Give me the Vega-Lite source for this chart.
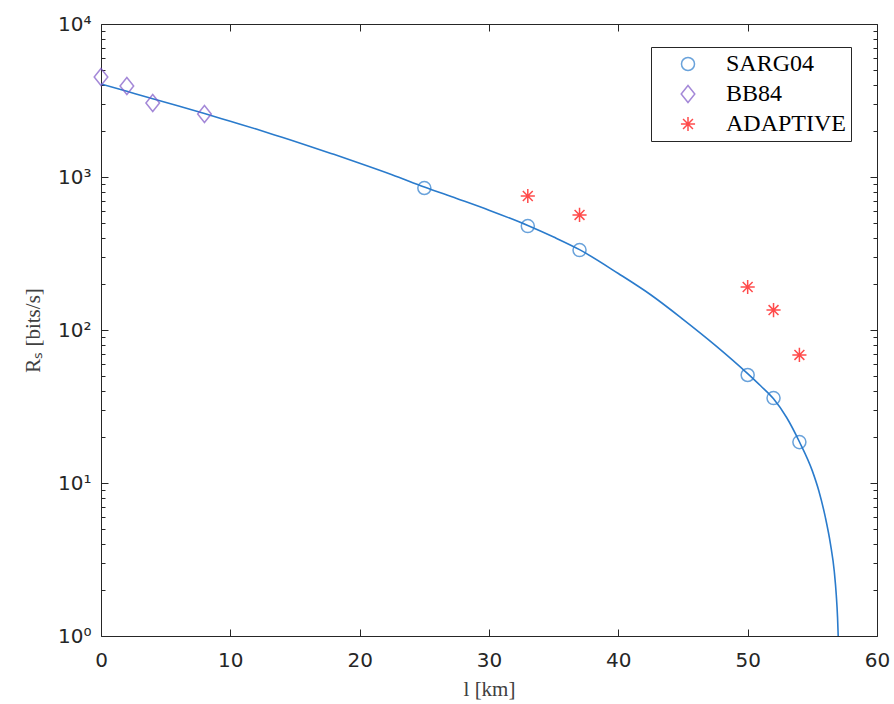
{
  "$schema": "https://vega.github.io/schema/vega-lite/v6.json",
  "width": 776,
  "height": 612,
  "autosize": {"type": "none"},
  "padding": {"left": 101, "top": 24, "right": 17, "bottom": 68},
  "background": "white",
  "config": {
    "view": {"stroke": "#262626", "strokeWidth": 1},
    "axis": {
      "grid": false,
      "ticks": true,
      "zindex": 1,
      "domain": false,
      "labelFlush": false,
      "tickColor": "#262626",
      "tickWidth": 1,
      "labelColor": "#262626",
      "labelFont": "DejaVu Sans",
      "labelFontSize": 20,
      "titleFont": "Liberation Serif",
      "titleFontWeight": "normal",
      "titleColor": "#404040",
      "titleFontSize": 21
    },
    "legend": {
      "orient": "none",
      "legendX": 550,
      "legendY": 23,
      "strokeColor": "#262626",
      "fillColor": "white",
      "padding": 5,
      "labelFont": "Liberation Serif",
      "labelFontSize": 24,
      "labelColor": "black",
      "symbolStrokeWidth": 1.5,
      "symbolSize": 170,
      "rowPadding": 6,
      "symbolOffset": 20,
      "labelOffset": 26,
      "zindex": 2
    }
  },
  "datasets": {
    "curve": [
      {"l": 0, "R": 4055}, {"l": 2, "R": 3631}, {"l": 4, "R": 3251}, {"l": 6, "R": 2908},
      {"l": 8, "R": 2600}, {"l": 10, "R": 2312}, {"l": 12, "R": 2056}, {"l": 14, "R": 1816},
      {"l": 16, "R": 1603}, {"l": 18, "R": 1406}, {"l": 20, "R": 1230}, {"l": 22.5, "R": 1035},
      {"l": 25, "R": 861}, {"l": 27.5, "R": 724}, {"l": 30, "R": 607}, {"l": 33, "R": 482},
      {"l": 35, "R": 405}, {"l": 37, "R": 335}, {"l": 40, "R": 234}, {"l": 42.5, "R": 170},
      {"l": 45, "R": 117.5}, {"l": 47.5, "R": 79.4}, {"l": 50, "R": 51.9}, {"l": 51, "R": 43.2},
      {"l": 52, "R": 35.5}, {"l": 53, "R": 26.9}, {"l": 54, "R": 18.6}, {"l": 55, "R": 12.0},
      {"l": 55.5, "R": 8.9}, {"l": 56, "R": 6.0}, {"l": 56.4, "R": 4.0}, {"l": 56.7, "R": 2.63},
      {"l": 56.85, "R": 1.86}, {"l": 56.95, "R": 1.32}, {"l": 57, "R": 1.0}
    ],
    "points": [
      {"method": "SARG04", "l": 25, "R": 847},
      {"method": "SARG04", "l": 33, "R": 478},
      {"method": "SARG04", "l": 37, "R": 333},
      {"method": "SARG04", "l": 50, "R": 50.8},
      {"method": "SARG04", "l": 52, "R": 35.9},
      {"method": "SARG04", "l": 54, "R": 18.5},
      {"method": "BB84", "l": 0, "R": 4500},
      {"method": "BB84", "l": 2, "R": 3935},
      {"method": "BB84", "l": 4, "R": 3047},
      {"method": "BB84", "l": 8, "R": 2580},
      {"method": "ADAPTIVE", "l": 33, "R": 751},
      {"method": "ADAPTIVE", "l": 37, "R": 565},
      {"method": "ADAPTIVE", "l": 50, "R": 191},
      {"method": "ADAPTIVE", "l": 52, "R": 135},
      {"method": "ADAPTIVE", "l": 54, "R": 68.7}
    ]
  },
  "layer": [
    {
      "data": {"name": "curve"},
      "mark": {"type": "line", "color": "#2a7bcc", "strokeWidth": 1.6, "clip": true, "interpolate": "monotone"},
      "encoding": {
        "x": {
          "field": "l", "type": "quantitative",
          "scale": {"domain": [0, 60], "nice": false},
          "axis": {
            "orient": "bottom",
            "values": [0, 10, 20, 30, 40, 50, 60],
            "tickSize": 7,
            "offset": -7,
            "labelPadding": 14,
            "title": "l [km]",
            "titlePadding": 8
          }
        },
        "y": {
          "field": "R", "type": "quantitative",
          "scale": {"type": "log", "domain": [1, 10000], "nice": false},
          "axis": {
            "orient": "left",
            "values": [1, 10, 100, 1000, 10000],
            "labelExpr": "datum.value == 1 ? '10⁰' : datum.value == 10 ? '10¹' : datum.value == 100 ? '10²' : datum.value == 1000 ? '10³' : '10⁴'",
            "tickSize": 7,
            "offset": -7,
            "labelPadding": 10,
            "title": "Rₛ [bits/s]",
            "titlePadding": 14
          }
        }
      }
    },
    {
      "data": {"name": "points"},
      "mark": {"type": "point", "filled": false, "strokeWidth": 1.5},
      "encoding": {
        "x": {
          "field": "l", "type": "quantitative",
          "axis": {
            "orient": "top",
            "values": [0, 10, 20, 30, 40, 50, 60],
            "tickSize": 7,
            "offset": -7,
            "labels": false,
            "title": null
          }
        },
        "y": {
          "field": "R", "type": "quantitative",
          "axis": {
            "orient": "right",
            "values": [1, 10, 100, 1000, 10000],
            "tickSize": 7,
            "offset": -7,
            "labels": false,
            "title": null
          }
        },
        "shape": {
          "field": "method", "type": "nominal",
          "scale": {
            "domain": ["SARG04", "BB84", "ADAPTIVE"],
            "range": ["circle", "M0,-1.25L1,0L0,1.25L-1,0Z", "M-1,0L1,0M0,-1L0,1M-0.7,-0.7L0.7,0.7M-0.7,0.7L0.7,-0.7"]
          },
          "legend": {"title": null}
        },
        "color": {
          "field": "method", "type": "nominal",
          "scale": {
            "domain": ["SARG04", "BB84", "ADAPTIVE"],
            "range": ["#2a7bcc", "#7e57c8", "#ff0000"]
          },
          "legend": {"title": null}
        },
        "size": {
          "field": "method", "type": "nominal",
          "scale": {
            "domain": ["SARG04", "BB84", "ADAPTIVE"],
            "range": [170, 200, 220]
          },
          "legend": null
        }
      }
    },
    {
      "data": {"name": "points"},
      "mark": {"type": "point", "opacity": 0},
      "encoding": {
        "x": {"field": "l", "type": "quantitative", "axis": null},
        "y": {
          "field": "R", "type": "quantitative",
          "axis": {
            "orient": "left",
            "values": [2,3,4,5,6,7,8,9,20,30,40,50,60,70,80,90,200,300,400,500,600,700,800,900,2000,3000,4000,5000,6000,7000,8000,9000],
            "tickSize": 4,
            "offset": -4,
            "labels": false,
            "title": null
          }
        }
      }
    },
    {
      "data": {"name": "points"},
      "mark": {"type": "point", "opacity": 0},
      "encoding": {
        "x": {"field": "l", "type": "quantitative", "axis": null},
        "y": {
          "field": "R", "type": "quantitative",
          "axis": {
            "orient": "right",
            "values": [2,3,4,5,6,7,8,9,20,30,40,50,60,70,80,90,200,300,400,500,600,700,800,900,2000,3000,4000,5000,6000,7000,8000,9000],
            "tickSize": 4,
            "offset": -4,
            "labels": false,
            "title": null
          }
        }
      }
    }
  ]
}
